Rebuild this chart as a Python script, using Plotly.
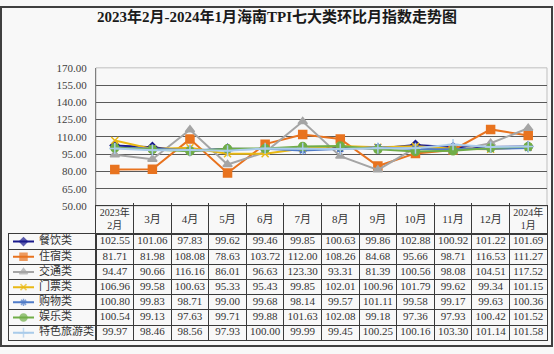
import plotly.graph_objects as go

months = ["2023年<br>2月", "3月", "4月", "5月", "6月", "7月", "8月", "9月",
          "10月", "11月", "12月", "2024年<br>1月"]
series_names = ["餐饮类", "住宿类", "交通类", "门票类", "购物类", "娱乐类", "特色旅游类"]

catering = [102.55, 101.06, 97.83, 99.62, 99.46, 99.85, 100.63, 99.86, 102.88, 100.92, 101.22, 101.69]
lodging = [81.71, 81.98, 108.08, 78.63, 103.72, 112.00, 108.26, 84.68, 95.66, 98.71, 116.53, 111.27]
transport = [94.47, 90.66, 116.16, 86.01, 96.63, 123.30, 93.31, 81.39, 100.56, 98.08, 104.51, 117.52]
tickets = [106.96, 99.58, 100.63, 95.33, 95.43, 99.85, 102.01, 100.96, 101.79, 99.62, 99.34, 101.15]
shopping = [100.80, 99.83, 98.71, 99.00, 99.68, 98.14, 99.57, 101.11, 99.58, 99.17, 99.63, 100.36]
entertainment = [100.54, 99.13, 97.63, 99.71, 99.88, 101.63, 102.08, 99.18, 97.36, 97.93, 100.42, 101.52]
special_tour = [99.97, 98.46, 98.56, 97.93, 100.00, 99.99, 99.45, 100.25, 100.16, 103.30, 101.14, 101.58]

all_series = [catering, lodging, transport, tickets, shopping, entertainment, special_tour]

colors = ["#1a1a8c", "#E8731F", "#A5A5A5", "#E9B914", "#4F7BC8", "#70AD47", "#A9CBEA"]
symbols = ["diamond", "square", "triangle-up", "x-thin-open", "asterisk-open", "circle", "cross-thin-open"]
msizes = [7, 8, 8, 7, 7, 8, 8]

W, H = 554, 354
BG = "#f8f8f8"
SERIF = "Liberation Serif, Noto Sans CJK SC"
LINE = "#3a3a3a"

plot_l, plot_r, plot_t, plot_b = 96, 547, 64, 207
head_b = 236
tab_l, tab_b = 9, 346

fig = go.Figure()

# ---- main line chart
for name, vals, c, s, ms in zip(series_names, all_series, colors, symbols, msizes):
    fig.add_trace(go.Scatter(
        x=months, y=vals, mode="lines+markers", name=name, showlegend=False,
        line=dict(color=c, width=2),
        marker=dict(symbol=s, size=ms, color=c, line=dict(color=c, width=1.5)),
        xaxis="x", yaxis="y", hoverinfo="skip"))

# ---- legend column (keys + names) on its own axes
for name, c, s, ms in zip(series_names, colors, symbols, msizes):
    fig.add_trace(go.Scatter(
        x=[4, 14.5, 25], y=[name] * 3, mode="lines+markers", showlegend=False,
        line=dict(color=c, width=2),
        marker=dict(symbol=s, size=[0, ms - 1, 0], color=c, line=dict(color=c, width=1.5)),
        xaxis="x2", yaxis="y2", hoverinfo="skip"))
fig.add_trace(go.Scatter(
    x=[30] * len(series_names), y=series_names, mode="text", text=series_names,
    textposition="middle right", showlegend=False, hoverinfo="skip",
    textfont=dict(family=SERIF, size=11, color="#333333"),
    xaxis="x2", yaxis="y2"))

# ---- table body
bx, by, bt = [], [], []
for name, ser in zip(series_names, all_series):
    for m, v in zip(months, ser):
        bx.append(m)
        by.append(name)
        bt.append(f"{v:.2f}")
fig.add_trace(go.Scatter(
    x=bx, y=by, mode="text", text=bt, textposition="middle center",
    showlegend=False, hoverinfo="skip",
    textfont=dict(family=SERIF, size=11, color="#333333"),
    xaxis="x3", yaxis="y3"))

# ---- table header
fig.add_trace(go.Scatter(
    x=months, y=[0.5] * len(months), mode="text", text=months,
    textposition="middle center", showlegend=False, hoverinfo="skip",
    textfont=dict(family=SERIF, size=[10 if "<br>" in m else 11 for m in months],
                  color="#333333"),
    xaxis="x4", yaxis="y4"))

ncol = len(months)
nrow = len(series_names)

def ydom(top_px, bot_px):
    return [(H - bot_px) / H, (H - top_px) / H]

fig.update_layout(
    width=W, height=H,
    margin=dict(l=0, r=0, t=0, b=0),
    paper_bgcolor=BG, plot_bgcolor=BG,
    title=dict(text="<b>2023年2月-2024年1月海南TPI七大类环比月指数走势图</b>",
               x=0.5, xanchor="center", y=1 - 17 / H, yanchor="middle",
               font=dict(family=SERIF, size=15, color="#1a1a1a")),
    xaxis=dict(domain=[plot_l / W, plot_r / W], type="category", range=[-0.5, ncol - 0.5],
               showticklabels=False, showgrid=False, zeroline=False,
               ticks="inside", tickson="boundaries", ticklen=3, tickcolor=LINE,
               showline=False, anchor="y"),
    yaxis=dict(domain=ydom(plot_t, plot_b), range=[50, 170], dtick=15,
               tick0=50, tickformat=".2f", showgrid=True, gridcolor="#5a5a5a", gridwidth=1,
               zeroline=False, showline=True, linecolor="#7f7f7f", linewidth=1,
               ticks="", ticklabelstandoff=6, anchor="x",
               tickfont=dict(family=SERIF, size=11, color="#404040")),
    # legend column
    xaxis2=dict(domain=[tab_l / W, plot_l / W], range=[0, plot_l - tab_l],
                showgrid=False, zeroline=False, showticklabels=False, ticks="",
                showline=True, mirror=True, linecolor=LINE, linewidth=1, anchor="y2",
                fixedrange=True),
    yaxis2=dict(domain=ydom(head_b, tab_b), type="category", categoryorder="array",
                categoryarray=series_names, range=[nrow - 0.5, -0.5],
                showgrid=True, tickson="boundaries", gridcolor=LINE, gridwidth=1,
                showticklabels=False, ticks="", zeroline=False,
                showline=True, mirror=True, linecolor=LINE, linewidth=1, anchor="x2",
                fixedrange=True),
    # table body
    xaxis3=dict(domain=[plot_l / W, plot_r / W], type="category", categoryorder="array",
                categoryarray=months, range=[-0.5, ncol - 0.5],
                showgrid=True, tickson="boundaries", gridcolor=LINE, gridwidth=1,
                showticklabels=False, ticks="", zeroline=False,
                showline=True, mirror=True, linecolor=LINE, linewidth=1, anchor="y3",
                fixedrange=True),
    yaxis3=dict(domain=ydom(head_b, tab_b), type="category", categoryorder="array",
                categoryarray=series_names, range=[nrow - 0.5, -0.5],
                showgrid=True, tickson="boundaries", gridcolor=LINE, gridwidth=1,
                showticklabels=False, ticks="", zeroline=False,
                showline=True, mirror=True, linecolor=LINE, linewidth=1, anchor="x3",
                fixedrange=True),
    # table header
    xaxis4=dict(domain=[plot_l / W, plot_r / W], type="category", categoryorder="array",
                categoryarray=months, range=[-0.5, ncol - 0.5],
                showgrid=True, tickson="boundaries", gridcolor=LINE, gridwidth=1,
                showticklabels=False, ticks="", zeroline=False,
                showline=True, mirror=True, linecolor=LINE, linewidth=1, anchor="y4",
                fixedrange=True),
    yaxis4=dict(domain=ydom(plot_b, head_b), range=[0, 1],
                showgrid=False, showticklabels=False, ticks="", zeroline=False,
                showline=True, mirror=True, linecolor=LINE, linewidth=1, anchor="x4",
                fixedrange=True),
    shapes=[
        dict(type="rect", xref="x domain", yref="y domain", x0=0, x1=1, y0=0, y1=1,
             line=dict(color="#bfbfbf", width=1), layer="below"),
        dict(type="rect", xref="paper", yref="paper", x0=1 / W, x1=(W - 2) / W,
             y0=2 / H, y1=(H - 1) / H, line=dict(color="#404040", width=2)),
    ],
)

fig.write_html("out.html")
